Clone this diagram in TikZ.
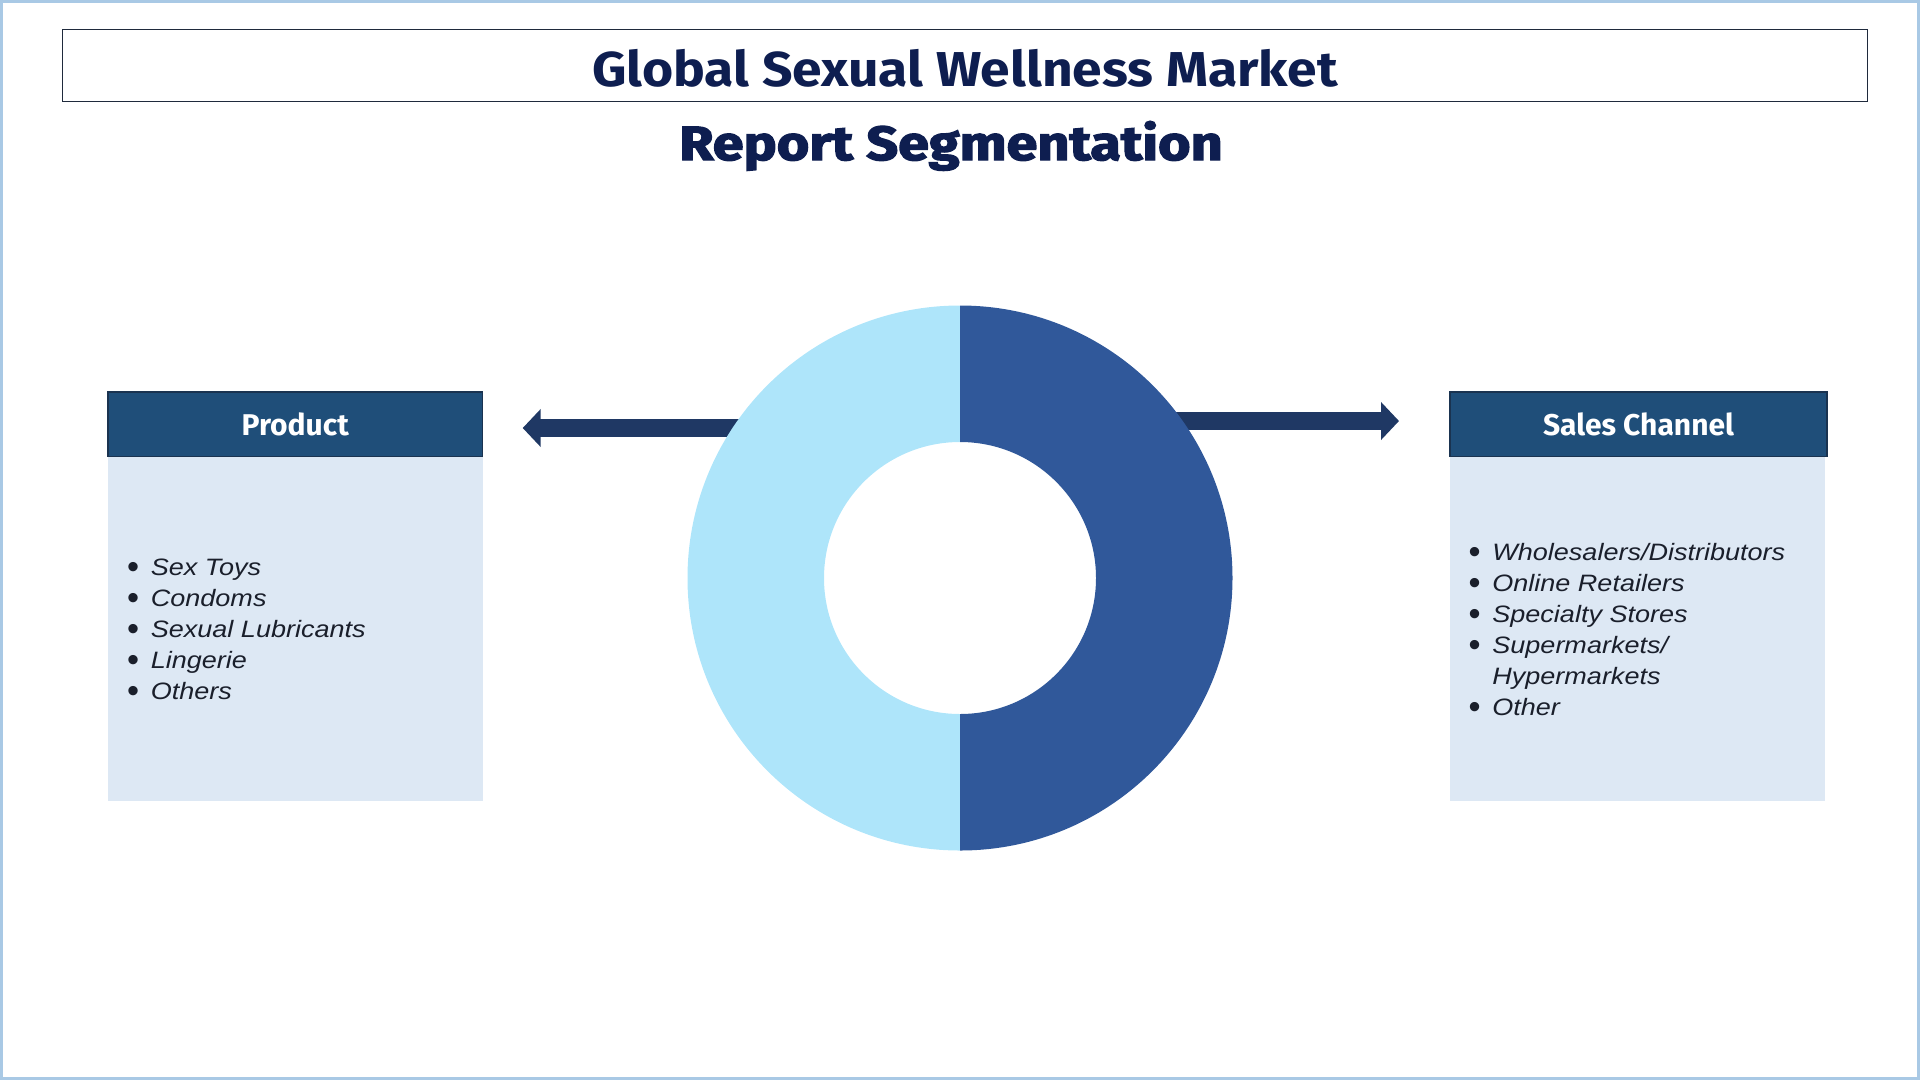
\documentclass[tikz,border=0pt]{standalone}
\usepackage{fontspec}
\setmainfont{Liberation Sans}
\newfontfamily\titlef{Fira Sans}
\newfontfamily\heavyf{Fira Sans}[BoldFeatures={FakeBold=2.6}]
\usetikzlibrary{arrows.meta}
\definecolor{titlec}{HTML}{0E1E50}
\definecolor{headc}{HTML}{1F4E79}
\definecolor{headline}{HTML}{1A3350}
\definecolor{bodyc}{HTML}{DDE8F4}
\definecolor{lightc}{HTML}{AEE5FA}
\definecolor{darkc}{HTML}{30589A}
\definecolor{arrowc}{HTML}{1F3864}
\definecolor{framec}{HTML}{A9C9E5}
\definecolor{boxline}{HTML}{1F2A3C}
\definecolor{itemc}{HTML}{1A1F2B}
\tikzset{
  headbox/.style={fill=headc, draw=headline, line width=1.5pt},
  bodybox/.style={fill=bodyc, draw=none},
  headtext/.style={text=white, font=\titlef\bfseries\fontsize{30}{36}\selectfont, inner sep=0pt},
  itemtext/.style={text=itemc, font=\itshape\fontsize{23.7}{28}\selectfont, inner sep=0pt, anchor=base west},
  segarrow/.style={draw=arrowc, line width=18pt, -{Triangle[length=18pt,width=37pt]}}
}
\newcommand{\itm}[1]{\makebox[23.7pt][l]{\raisebox{-3pt}{\scalebox{1.45}{\upshape\textbullet}}}\scalebox{1.14}[1]{#1}}
\begin{document}
\begin{tikzpicture}[x=1pt,y=-1pt]
\useasboundingbox (0,0) rectangle (1920,1080);
% outer frame
\draw[framec, line width=3pt] (1.5,1.5) rectangle (1918.5,1078.5);
% title box
\draw[boxline, line width=1.5pt] (62.4,29.4) rectangle (1867.4,101.6);
\node[anchor=base, inner sep=0pt, text=titlec, font=\titlef\bfseries\fontsize{49}{58}\selectfont] (title) at (965,86) {\scalebox{1.09}[1]{Global Sexual Wellness Market}};
\node[anchor=base, inner sep=0pt, text=titlec, font=\heavyf\bfseries\fontsize{48}{58}\selectfont] (subtitle) at (951,160) {\scalebox{1.16}[1]{Report Segmentation}};
% donut center
\coordinate (dc) at (960,578);
% arrows (behind donut)
\coordinate (lstart) at (760,428);
\coordinate (ltip) at (522.7,428);
\coordinate (rstart) at (1160,421);
\coordinate (rtip) at (1399,421);
\draw[segarrow] (lstart) -- (ltip);
\draw[segarrow] (rstart) -- (rtip);
% donut
\begin{scope}
\clip (687,300) rectangle (960,860);
\fill[lightc, even odd rule] (dc) circle[radius=272.5] (dc) circle[radius=136];
\end{scope}
\begin{scope}
\clip (960,300) rectangle (1240,860);
\fill[darkc, even odd rule] (dc) circle[radius=272.5] (dc) circle[radius=136];
\end{scope}
% Product box
\fill[bodybox] (108,456.7) rectangle (482.5,801);
\draw[headbox] (108,392) rectangle (482.5,456.7);
\node[headtext, anchor=base] (prod) at (295.25,435) {Product};
\foreach \t [count=\i] in {Sex Toys, Condoms, Sexual Lubricants, Lingerie, Others} {
  \node[itemtext] (p\i) at (127,575+31*\i-31) {\itm{\t}};
}
% Sales Channel box
\fill[bodybox] (1450,456.7) rectangle (1824.5,801);
\draw[headbox] (1450,392) rectangle (1827,456.7);
\node[headtext, anchor=base] (sales) at (1638.5,435) {Sales Channel};
\node[itemtext] (s1) at (1468.5,560) {\itm{Wholesalers/Distributors}};
\node[itemtext] (s2) at (1468.5,591) {\itm{Online Retailers}};
\node[itemtext] (s3) at (1468.5,622) {\itm{Specialty Stores}};
\node[itemtext] (s4) at (1468.5,653) {\itm{Supermarkets/}};
\node[itemtext] (s5) at (1468.5,684) {\makebox[23.7pt][l]{}\scalebox{1.14}[1]{Hypermarkets}};
\node[itemtext] (s6) at (1468.5,715) {\itm{Other}};
\end{tikzpicture}
\end{document}
